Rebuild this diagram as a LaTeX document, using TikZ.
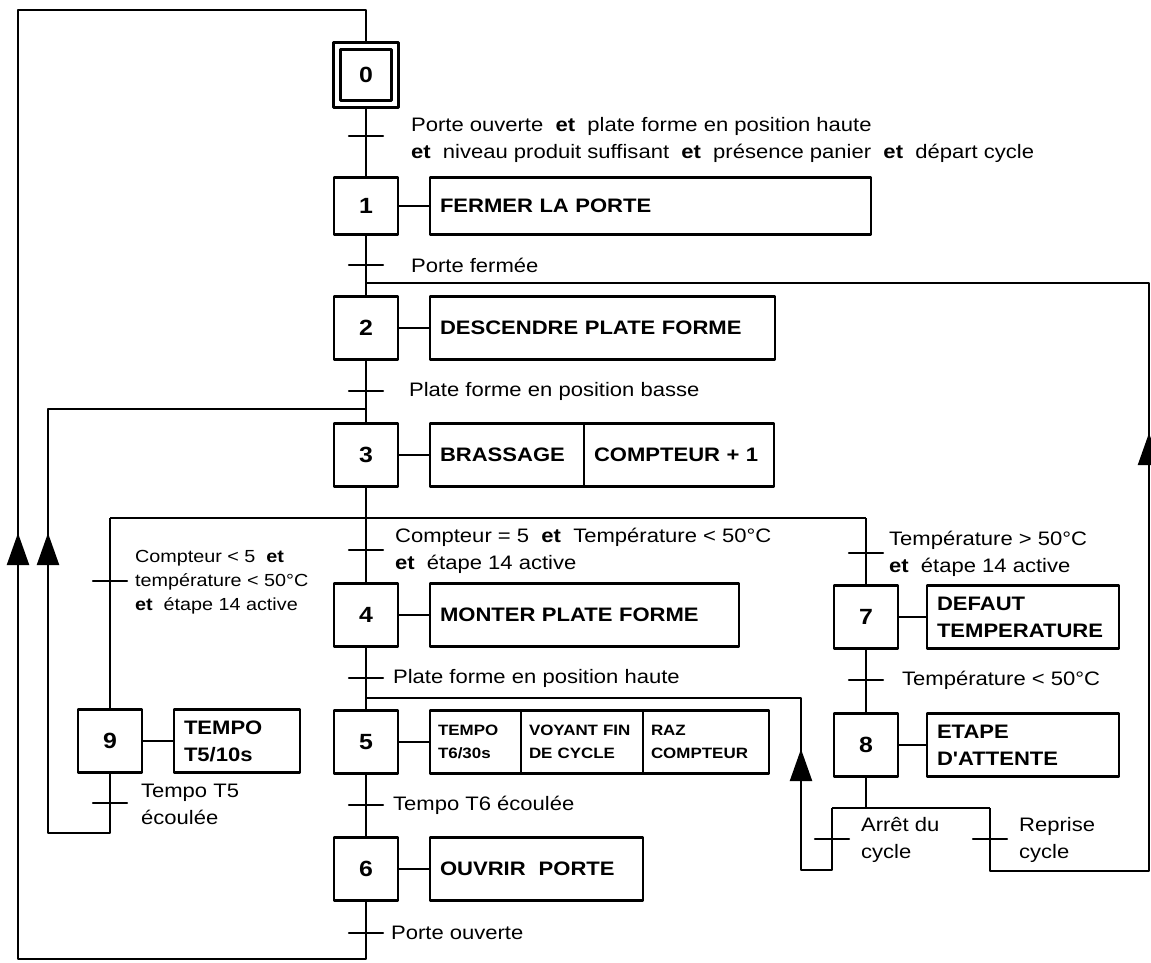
\documentclass[tikz,border=0pt]{standalone}
\usepackage{fontspec}
\setmainfont{Liberation Sans}[FakeStretch=1.13, Ligatures=TeXOff]
\usetikzlibrary{arrows.meta,positioning}

\begin{document}
\begin{tikzpicture}[x=1pt, y=-1pt, line width=2.2pt, line join=round,
  font=\fontsize{19.5}{27}\selectfont,
  etape/.style={draw, minimum width=64, minimum height=63, inner sep=0pt, font=\fontsize{22}{26}\selectfont\bfseries},
  action/.style={draw, anchor=west, minimum height=63, inner xsep=10pt, inner ysep=0pt, outer sep=0pt, align=left, font=\fontsize{19.5}{27}\selectfont\bfseries},
  petit/.style={inner xsep=8pt, font=\fontsize{15}{23}\selectfont\bfseries},
  recep/.style={draw, minimum width=34, minimum height=0pt, inner sep=0pt},
  cond/.style={anchor=west, inner sep=0pt, align=left},
  fleche/.style={-{Triangle[width=22pt,length=32pt]}}]
\useasboundingbox (0,0) rectangle (1151,963);
% etapes
\node[etape, minimum size=65] (e0) at (366,75) {0};
\node[draw, minimum size=51, inner sep=0pt] (e0i) at (e0.center) {};
\node[etape, minimum height=57] (e1) at (366,206) {1};
\node[etape] (e2) at (366,328) {2};
\node[etape] (e3) at (366,455) {3};
\node[etape] (e4) at (366,615) {4};
\node[etape] (e5) at (366,742) {5};
\node[etape] (e6) at (366,869) {6};
\node[etape] (e7) at (866,617) {7};
\node[etape] (e8) at (866,745) {8};
\node[etape] (e9) at (110,741) {9};
% actions
\node[action, minimum height=57, text width=421] (a1) at (430,206) {FERMER LA PORTE};
\node[action, text width=325] (a2) at (430,328) {DESCENDRE PLATE FORME};
\node[action, text width=134] (a3a) at (430,455) {BRASSAGE};
\node[action, text width=170, right=0pt of a3a] (a3b) {COMPTEUR + 1};
\node[action, text width=289] (a4) at (430,615) {MONTER PLATE FORME};
\node[action, petit, text width=75] (a5a) at (430,742) {TEMPO\\T6/30s};
\node[action, petit, text width=106, right=0pt of a5a] (a5b) {VOYANT FIN\\DE CYCLE};
\node[action, petit, text width=110, right=0pt of a5b] (a5c) {RAZ\\COMPTEUR};
\node[action, text width=193] (a6) at (430,869) {OUVRIR\ \ PORTE};
\node[action, text width=172] (a7) at (927,617) {DEFAUT\\TEMPERATURE};
\node[action, text width=172] (a8) at (927,745) {ETAPE\\D'ATTENTE};
\node[action, text width=106] (a9) at (174,741) {TEMPO\\T5/10s};
% receptivites
\node[recep] (t01) at (366,136) {};
\node[recep] (t12) at (366,265) {};
\node[recep] (t23) at (366,391) {};
\node[recep] (t34) at (366,550) {};
\node[recep] (t45) at (366,678) {};
\node[recep] (t56) at (366,805) {};
\node[recep] (t60) at (366,933) {};
\node[recep] (t9) at (110,581) {};
\node[recep] (t37) at (866,553) {};
\node[recep] (t78) at (866,680) {};
\node[recep] (t95) at (110,803) {};
\node[recep] (tA) at (832,839) {};
\node[recep] (tR) at (990,839) {};
% points de jonction
\coordinate (j2) at (366,283);
\coordinate (j3) at (366,409);
\coordinate (d3) at (366,518);
\coordinate (dg) at (110,518);
\coordinate (dd) at (866,518);
\coordinate (j5) at (366,698);
\coordinate (b6) at (366,959);
\coordinate (bl) at (18,959);
\coordinate (hl) at (18,10);
\coordinate (h0) at (366,10);
\coordinate (b9) at (110,833);
\coordinate (b9g) at (48,833);
\coordinate (j3g) at (48,409);
\coordinate (d8) at (866,808);
\coordinate (dA) at (832,808);
\coordinate (dR) at (990,808);
\coordinate (bA) at (832,870);
\coordinate (bA5) at (801,870);
\coordinate (j5d) at (801,698);
\coordinate (bR) at (990,871);
\coordinate (bRd) at (1149,871);
\coordinate (j2d) at (1149,283);
\coordinate (f1b) at (18,566);
\coordinate (f1t) at (18,533);
\coordinate (f2b) at (48,566);
\coordinate (f2t) at (48,533);
\coordinate (f3b) at (801,778);
\coordinate (f3t) at (801,749);
\coordinate (f4b) at (1149,462);
\coordinate (f4t) at (1149,433);
% liaisons
\draw (e0) -- (t01) -- (e1);
\draw (e1) -- (t12) -- (e2);
\draw (e2) -- (t23) -- (e3);
\draw (e3) -- (d3);
\draw (dg) -- (dd);
\draw (d3) -- (t34) -- (e4);
\draw (dg) -- (t9) -- (e9);
\draw (dd) -- (t37) -- (e7);
\draw (e4) -- (t45) -- (e5);
\draw (e5) -- (t56) -- (e6);
\draw (e7) -- (t78) -- (e8);
\draw (e6) -- (t60) -- (b6) -- (bl) -- (hl) -- (h0) -- (e0);
\draw (e9) -- (t95) -- (b9) -- (b9g) -- (j3g) -- (j3);
\draw (e8) -- (d8);
\draw (dA) -- (dR);
\draw (dA) -- (tA) -- (bA) -- (bA5) -- (j5d) -- (j5);
\draw (dR) -- (tR) -- (bR) -- (bRd) -- (j2d) -- (j2);
\draw (e1) -- (a1);
\draw (e2) -- (a2);
\draw (e3) -- (a3a);
\draw (e4) -- (a4);
\draw (e5) -- (a5a);
\draw (e6) -- (a6);
\draw (e7) -- (a7);
\draw (e8) -- (a8);
\draw (e9) -- (a9);
\draw[fleche] (f1b) -- (f1t);
\draw[fleche] (f2b) -- (f2t);
\draw[fleche] (f3b) -- (f3t);
\draw[fleche] (f4b) -- (f4t);
% conditions
\node[cond] (c01) at (410,140) {Porte ouverte \ \textbf{et} \ plate forme en position haute\\\textbf{et} \ niveau produit suffisant \ \textbf{et} \ présence panier \ \textbf{et} \ départ cycle};
\node[cond] (c12) at (410,265) {Porte fermée};
\node[cond] (c23) at (408,391) {Plate forme en position basse};
\node[cond] (c34) at (394,551) {Compteur = 5 \ \textbf{et} \ Température < 50°C\\\textbf{et} \ étape 14 active};
\node[cond] (c45) at (392,678) {Plate forme en position haute};
\node[cond] (c56) at (392,805) {Tempo T6 écoulée};
\node[cond] (c60) at (390,933) {Porte ouverte};
\node[cond, font=\fontsize{17.5}{24}\selectfont] (c9) at (134,582) {Compteur < 5 \ \textbf{et}\\température < 50°C\\\textbf{et} \ étape 14 active};
\node[cond] (c37) at (888,554) {Température > 50°C\\\textbf{et} \ étape 14 active};
\node[cond] (c78) at (901,680) {Température < 50°C};
\node[cond] (c95) at (140,804) {Tempo T5\\écoulée};
\node[cond] (cA) at (860,840) {Arrêt du\\cycle};
\node[cond] (cR) at (1018,840) {Reprise\\cycle};
\end{tikzpicture}
\end{document}
